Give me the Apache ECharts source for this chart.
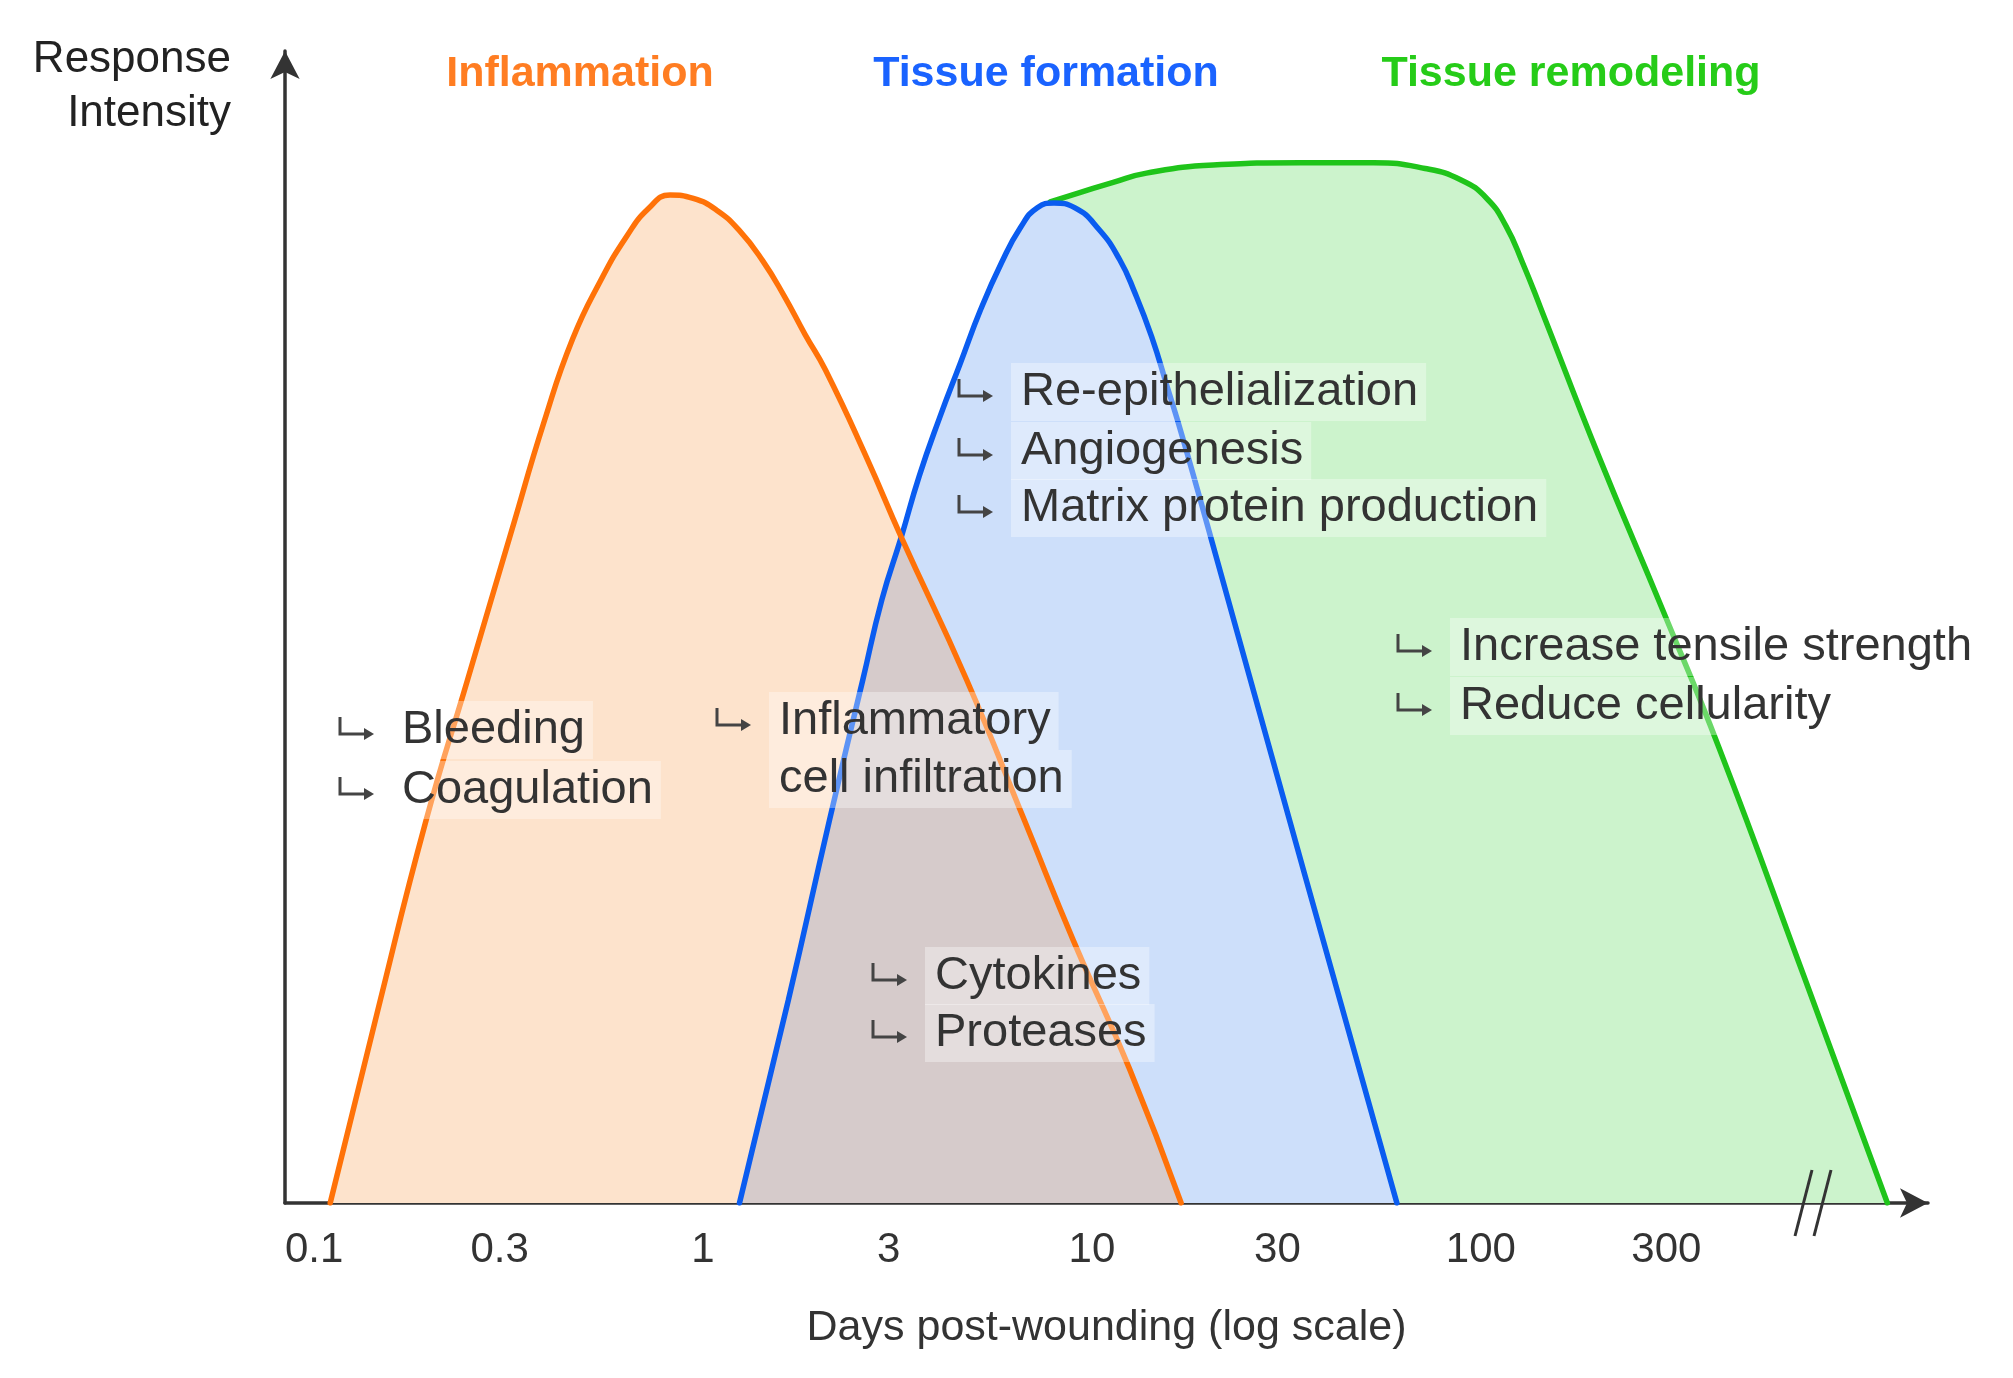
<!DOCTYPE html>
<html>
<head>
<meta charset="utf-8">
<title>Wound healing phases</title>
<script src="https://cdn.jsdelivr.net/npm/echarts@6/dist/echarts.min.js"></script>
<style>
html,body{margin:0;padding:0;background:#fff;}
#chart{width:2013px;height:1378px;}
</style>
</head>
<body>
<div id="chart"></div>
<script>
// ---------------- data ----------------
const tickValues = [0.1, 0.3, 1, 3, 10, 30, 100, 300];
const tickLabels = ['0.1', '0.3', '1', '3', '10', '30', '100', '300'];

const phaseNames = ['Inflammation', 'Tissue formation', 'Tissue remodeling'];

// Inflammation (days post-wounding, response intensity)
const inflammationDays = [0.110, 0.145, 0.194, 0.248, 0.321, 0.391, 0.462, 0.546, 0.636, 0.723, 0.823, 0.944, 1.082, 1.241, 1.423, 1.619, 1.829, 2.065, 2.634, 3.234, 4.765, 6.709, 8.956, 12.51, 16.96];
const inflammationLevel = [0, 16.4, 33.2, 45.4, 58.2, 67.9, 75.0, 80.1, 83.9, 86.3, 87.5, 87.2, 86.2, 84.4, 81.8, 78.7, 75.4, 72.3, 64.7, 57.8, 45.4, 33.2, 22.8, 11.6, 0];

// Tissue formation
const formationDays = [1.241, 1.657, 2.113, 2.575, 2.885, 3.234, 3.597, 4.062, 4.588, 5.181, 5.851, 6.558, 7.239, 7.991, 9.025, 10.43, 11.78, 12.90, 14.24, 15.60, 17.09, 20.36, 35.19, 60.83];
const formationLevel = [0, 17.6, 33.2, 45.4, 52.4, 57.8, 63.1, 68.2, 72.9, 77.6, 81.6, 84.7, 86.4, 86.8, 86.4, 84.5, 81.9, 79.0, 75.2, 70.9, 66.5, 57.4, 28.6, 0];

// Tissue remodeling
const remodelingDays = [7.811, 9.303, 11.34, 13.81, 20.51, 34.39, 53.05, 71.90, 88.95, 103.6, 116.1, 128.1, 142.5, 200.6, 293.4, 409.9, 677.1, 1110];
const remodelingLevel = [86.9, 87.7, 88.6, 89.4, 90.1, 90.3, 90.3, 89.8, 88.8, 87.2, 84.8, 81.6, 77.7, 64.9, 51.5, 39.5, 19.7, 0];

// Region where inflammation and tissue formation overlap (outline)
const overlapDays = [1.241, 1.657, 2.113, 2.575, 2.885, 3.234, 4.765, 6.709, 8.956, 12.51, 16.96];
const overlapLevel = [0, 17.6, 33.2, 45.4, 52.4, 57.8, 45.4, 33.2, 22.8, 11.6, 0];

// Annotation texts
const noteTexts = [
  ['Bleeding', 'Coagulation'],
  ['Inflammatory', 'cell infiltration'],
  ['Re-epithelialization', 'Angiogenesis', 'Matrix protein production'],
  ['Increase tensile strength', 'Reduce cellularity'],
  ['Cytokines', 'Proteases']
];
const axisTitleX = 'Days post-wounding (log scale)';
const axisTitleY = 'Response\nIntensity';

// ---------------- presentation ----------------
const FONT = '"Liberation Sans", Arial, Helvetica, sans-serif';
const colors = {
  infl: '#ff7208', inflFill: '#fde3cc', inflTitle: '#ff7d22',
  form: '#0a5cf0', formFill: '#cddffa', formTitle: '#1a63ff',
  remo: '#1fc41a', remoFill: '#ccf3cc', remoTitle: '#26cc18',
  overlapFill: '#d6cbcb'
};
const SMOOTH = 0.5;

function pairs(xs, ys) { return xs.map((x, i) => [x, ys[i]]); }

function areaSeries(name, xs, ys, color, z, smooth) {
  return {
    type: 'line', name: name, data: pairs(xs, ys), smooth: smooth,
    symbol: 'none', silent: true, z: z,
    lineStyle: { width: 0, opacity: 0 },
    areaStyle: { color: color, opacity: 1 },
    emphasis: { disabled: true }
  };
}
function lineSeries(name, xs, ys, color, z) {
  return {
    type: 'line', name: name, data: pairs(xs, ys), smooth: SMOOTH,
    symbol: 'none', silent: true, z: z,
    lineStyle: { width: 5.5, color: color, cap: 'round', join: 'round' },
    emphasis: { disabled: true }
  };
}

// annotation layout (pixel positions of the text blocks)
const noteLayout = [
  { x: 402, ys: [730, 790], arrows: [true, true] },
  { x: 779, ys: [721, 779], arrows: [true, false] },
  { x: 1021, ys: [392, 451, 508], arrows: [true, true, true] },
  { x: 1460, ys: [647, 706], arrows: [true, true] },
  { x: 935, ys: [976, 1033], arrows: [true, true] }
];

const graphics = [];
function hookArrow(ax, cy) {
  graphics.push({
    type: 'polyline', z: 100, silent: true,
    shape: { points: [[ax, cy - 13], [ax, cy + 4], [ax + 27, cy + 4]] },
    style: { stroke: '#444', lineWidth: 3, fill: null }
  });
  graphics.push({
    type: 'polygon', z: 100, silent: true,
    shape: { points: [[ax + 24, cy - 2], [ax + 34, cy + 4], [ax + 24, cy + 10]] },
    style: { fill: '#444' }
  });
}
noteTexts.forEach((lines, k) => {
  const lay = noteLayout[k];
  lines.forEach((t, j) => {
    graphics.push({
      type: 'text', x: lay.x - 10, y: lay.ys[j], z: 100, silent: true,
      style: {
        text: t, fill: '#333', fontSize: 47, fontFamily: FONT,
        align: 'left', verticalAlign: 'middle', lineHeight: 50,
        backgroundColor: 'rgba(255,255,255,0.34)', padding: [4, 8, 4, 10]
      }
    });
    if (lay.arrows[j]) hookArrow(lay.x - 62, lay.ys[j]);
  });
});
// axis break marks
graphics.push(
  { type: 'line', z: 100, silent: true, shape: { x1: 1812, y1: 1170, x2: 1795, y2: 1236 }, style: { stroke: '#333', lineWidth: 3 } },
  { type: 'line', z: 100, silent: true, shape: { x1: 1831, y1: 1170, x2: 1814, y2: 1236 }, style: { stroke: '#333', lineWidth: 3 } }
);

const titleCenters = [580, 1046, 1571];
const titleColors = [colors.inflTitle, colors.formTitle, colors.remoTitle];

const option = {
  animation: false,
  backgroundColor: '#fff',
  title: phaseNames.map((n, i) => ({
    text: n, left: titleCenters[i], top: 53, textAlign: 'center', padding: 0,
    textStyle: { fontSize: 43, fontWeight: 'bold', color: titleColors[i], fontFamily: FONT }
  })),
  grid: { left: 285, right: 85, top: 51, bottom: 175, containLabel: false },
  xAxis: {
    type: 'log', logBase: 10, min: 0.08417, max: 1412,
    name: axisTitleX, nameLocation: 'middle', nameGap: 104,
    nameTextStyle: { fontSize: 43, color: '#333', fontFamily: FONT },
    axisLine: { show: true, symbol: ['none', 'arrow'], symbolSize: [22, 28], lineStyle: { color: '#333', width: 3.5 } },
    axisTick: { show: false },
    splitLine: { show: false },
    minorSplitLine: { show: false },
    axisLabel: {
      show: true, customValues: tickValues, margin: 26,
      fontSize: 42, color: '#333', fontFamily: FONT,
      formatter: function (v) {
        const i = tickValues.findIndex(t => Math.abs(t - v) / t < 1e-4);
        return i >= 0 ? tickLabels[i] : '';
      }
    }
  },
  yAxis: {
    type: 'value', min: 0, max: 100,
    name: axisTitleY, nameLocation: 'end', nameGap: 18,
    nameTextStyle: { fontSize: 44, color: '#222', fontFamily: FONT, align: 'right', verticalAlign: 'top', lineHeight: 54, padding: [0, 54, 0, 0] },
    axisLine: { show: true, symbol: ['none', 'arrow'], symbolSize: [22, 28], lineStyle: { color: '#333', width: 3.5 } },
    axisTick: { show: false },
    axisLabel: { show: false },
    splitLine: { show: false }
  },
  series: [
    areaSeries('Tissue remodeling area', remodelingDays, remodelingLevel, colors.remoFill, 1, SMOOTH),
    areaSeries('Tissue formation area', formationDays, formationLevel, colors.formFill, 2, SMOOTH),
    areaSeries('Inflammation area', inflammationDays, inflammationLevel, colors.inflFill, 3, SMOOTH),
    areaSeries('Overlap area', overlapDays, overlapLevel, colors.overlapFill, 4, false),
    lineSeries('Tissue remodeling', remodelingDays, remodelingLevel, colors.remo, 5),
    lineSeries('Tissue formation', formationDays, formationLevel, colors.form, 6),
    lineSeries('Inflammation', inflammationDays, inflammationLevel, colors.infl, 7)
  ],
  graphic: { elements: graphics }
};

const chart = echarts.init(document.getElementById('chart'), null, { renderer: 'canvas' });
chart.setOption(option);
</script>
</body>
</html>
